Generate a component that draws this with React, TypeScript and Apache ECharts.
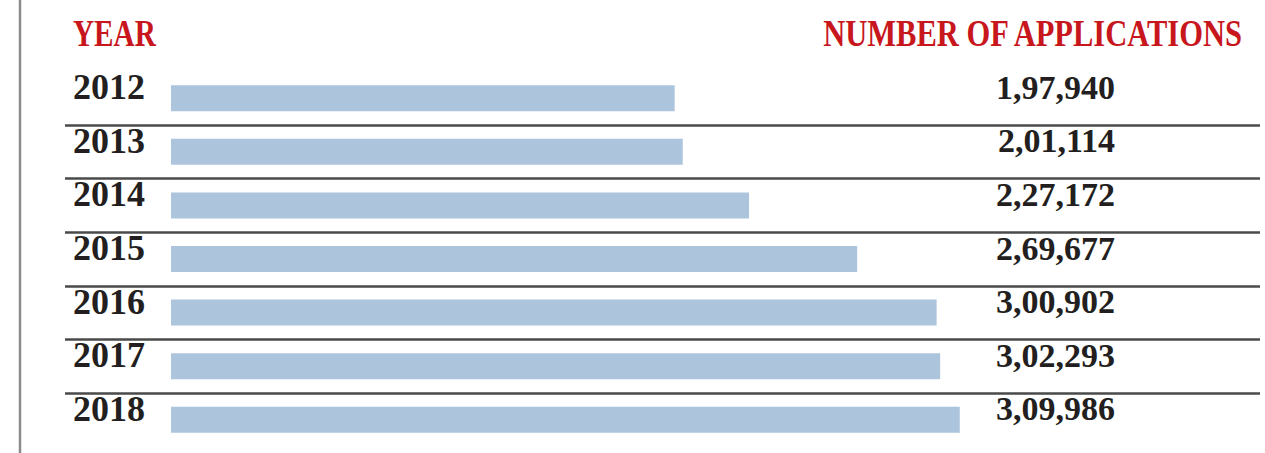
import React, { useEffect, useRef } from "react";
import * as echarts from "echarts";

const years = ["2012", "2013", "2014", "2015", "2016", "2017", "2018"];
const applications = [197940, 201114, 227172, 269677, 300902, 302293, 309986];
const valueLabels = ["1,97,940", "2,01,114", "2,27,172", "2,69,677", "3,00,902", "3,02,293", "3,09,986"];
const headerLeft = "YEAR";
const headerRight = "NUMBER OF APPLICATIONS";

const RED = "#c8161d";
const TEXT = "#231f20";
const FONT = "'Liberation Serif', 'DejaVu Serif', serif";
const NONE = "rgba(0,0,0,0)";
const RULE = "#4a4a4a";

export default function App() {
  const ref = useRef<HTMLDivElement>(null);
  useEffect(() => {
    if (!ref.current) return;
    const chart = echarts.init(ref.current, null, { renderer: "svg" });
    const top = 71.5;
    const bottom = 453 - 446.5;
    chart.setOption({
      animation: false,
      backgroundColor: "#ffffff",
      graphic: [
        {
          type: "line",
          shape: { x1: 20, y1: 0, x2: 20, y2: 453 },
          style: { stroke: "#8a8a8a", lineWidth: 2.5 },
        },
        {
          type: "text",
          x: 73,
          y: 33,
          scaleX: 0.79,
          style: {
            text: headerLeft,
            fill: RED,
            font: `bold 37px ${FONT}`,
            textVerticalAlign: "middle",
            textAlign: "left",
          },
        },
        {
          type: "text",
          x: 1242,
          y: 33,
          scaleX: 0.825,
          style: {
            text: headerRight,
            fill: RED,
            font: `bold 37px ${FONT}`,
            textVerticalAlign: "middle",
            textAlign: "right",
          },
        },
      ],
      grid: [
        { left: 65, right: 5, top, bottom },
        { left: 171, right: 150, top, bottom },
      ],
      xAxis: [
        { type: "value", gridIndex: 0, show: false, min: 0, max: 1 },
        { type: "value", gridIndex: 1, show: false, min: 0, max: 371000 },
      ],
      yAxis: [
        {
          type: "category",
          gridIndex: 0,
          data: years,
          inverse: true,
          axisLine: { show: false },
          axisTick: { show: false },
          axisLabel: {
            inside: true,
            margin: 8,
            color: TEXT,
            fontFamily: FONT,
            fontWeight: "bold",
            fontSize: 36,
            align: "left",
            verticalAlign: "bottom",
            lineHeight: 22,
          },
          splitLine: {
            show: true,
            lineStyle: {
              color: [NONE, RULE, RULE, RULE, RULE, RULE, RULE, NONE],
              width: 2.5,
            },
          },
        },
        {
          type: "category",
          gridIndex: 1,
          data: years,
          inverse: true,
          show: false,
        },
        {
          type: "category",
          gridIndex: 1,
          position: "right",
          data: valueLabels,
          inverse: true,
          axisLine: { show: false },
          axisTick: { show: false },
          splitLine: { show: false },
          axisLabel: {
            inside: true,
            margin: 0,
            color: TEXT,
            fontFamily: FONT,
            fontWeight: "bold",
            fontSize: 34,
            align: "right",
            verticalAlign: "bottom",
            lineHeight: 22,
          },
        },
      ],
      series: [
        {
          type: "bar",
          xAxisIndex: 1,
          yAxisIndex: 1,
          data: applications,
          barWidth: 26,
          itemStyle: { color: "#adc4dd" },
          silent: true,
        },
      ],
    });
    return () => chart.dispose();
  }, []);
  return (
    <div
      ref={ref}
      style={{ position: "absolute", left: 0, top: 0, width: 1265, height: 453 }}
    />
  );
}
